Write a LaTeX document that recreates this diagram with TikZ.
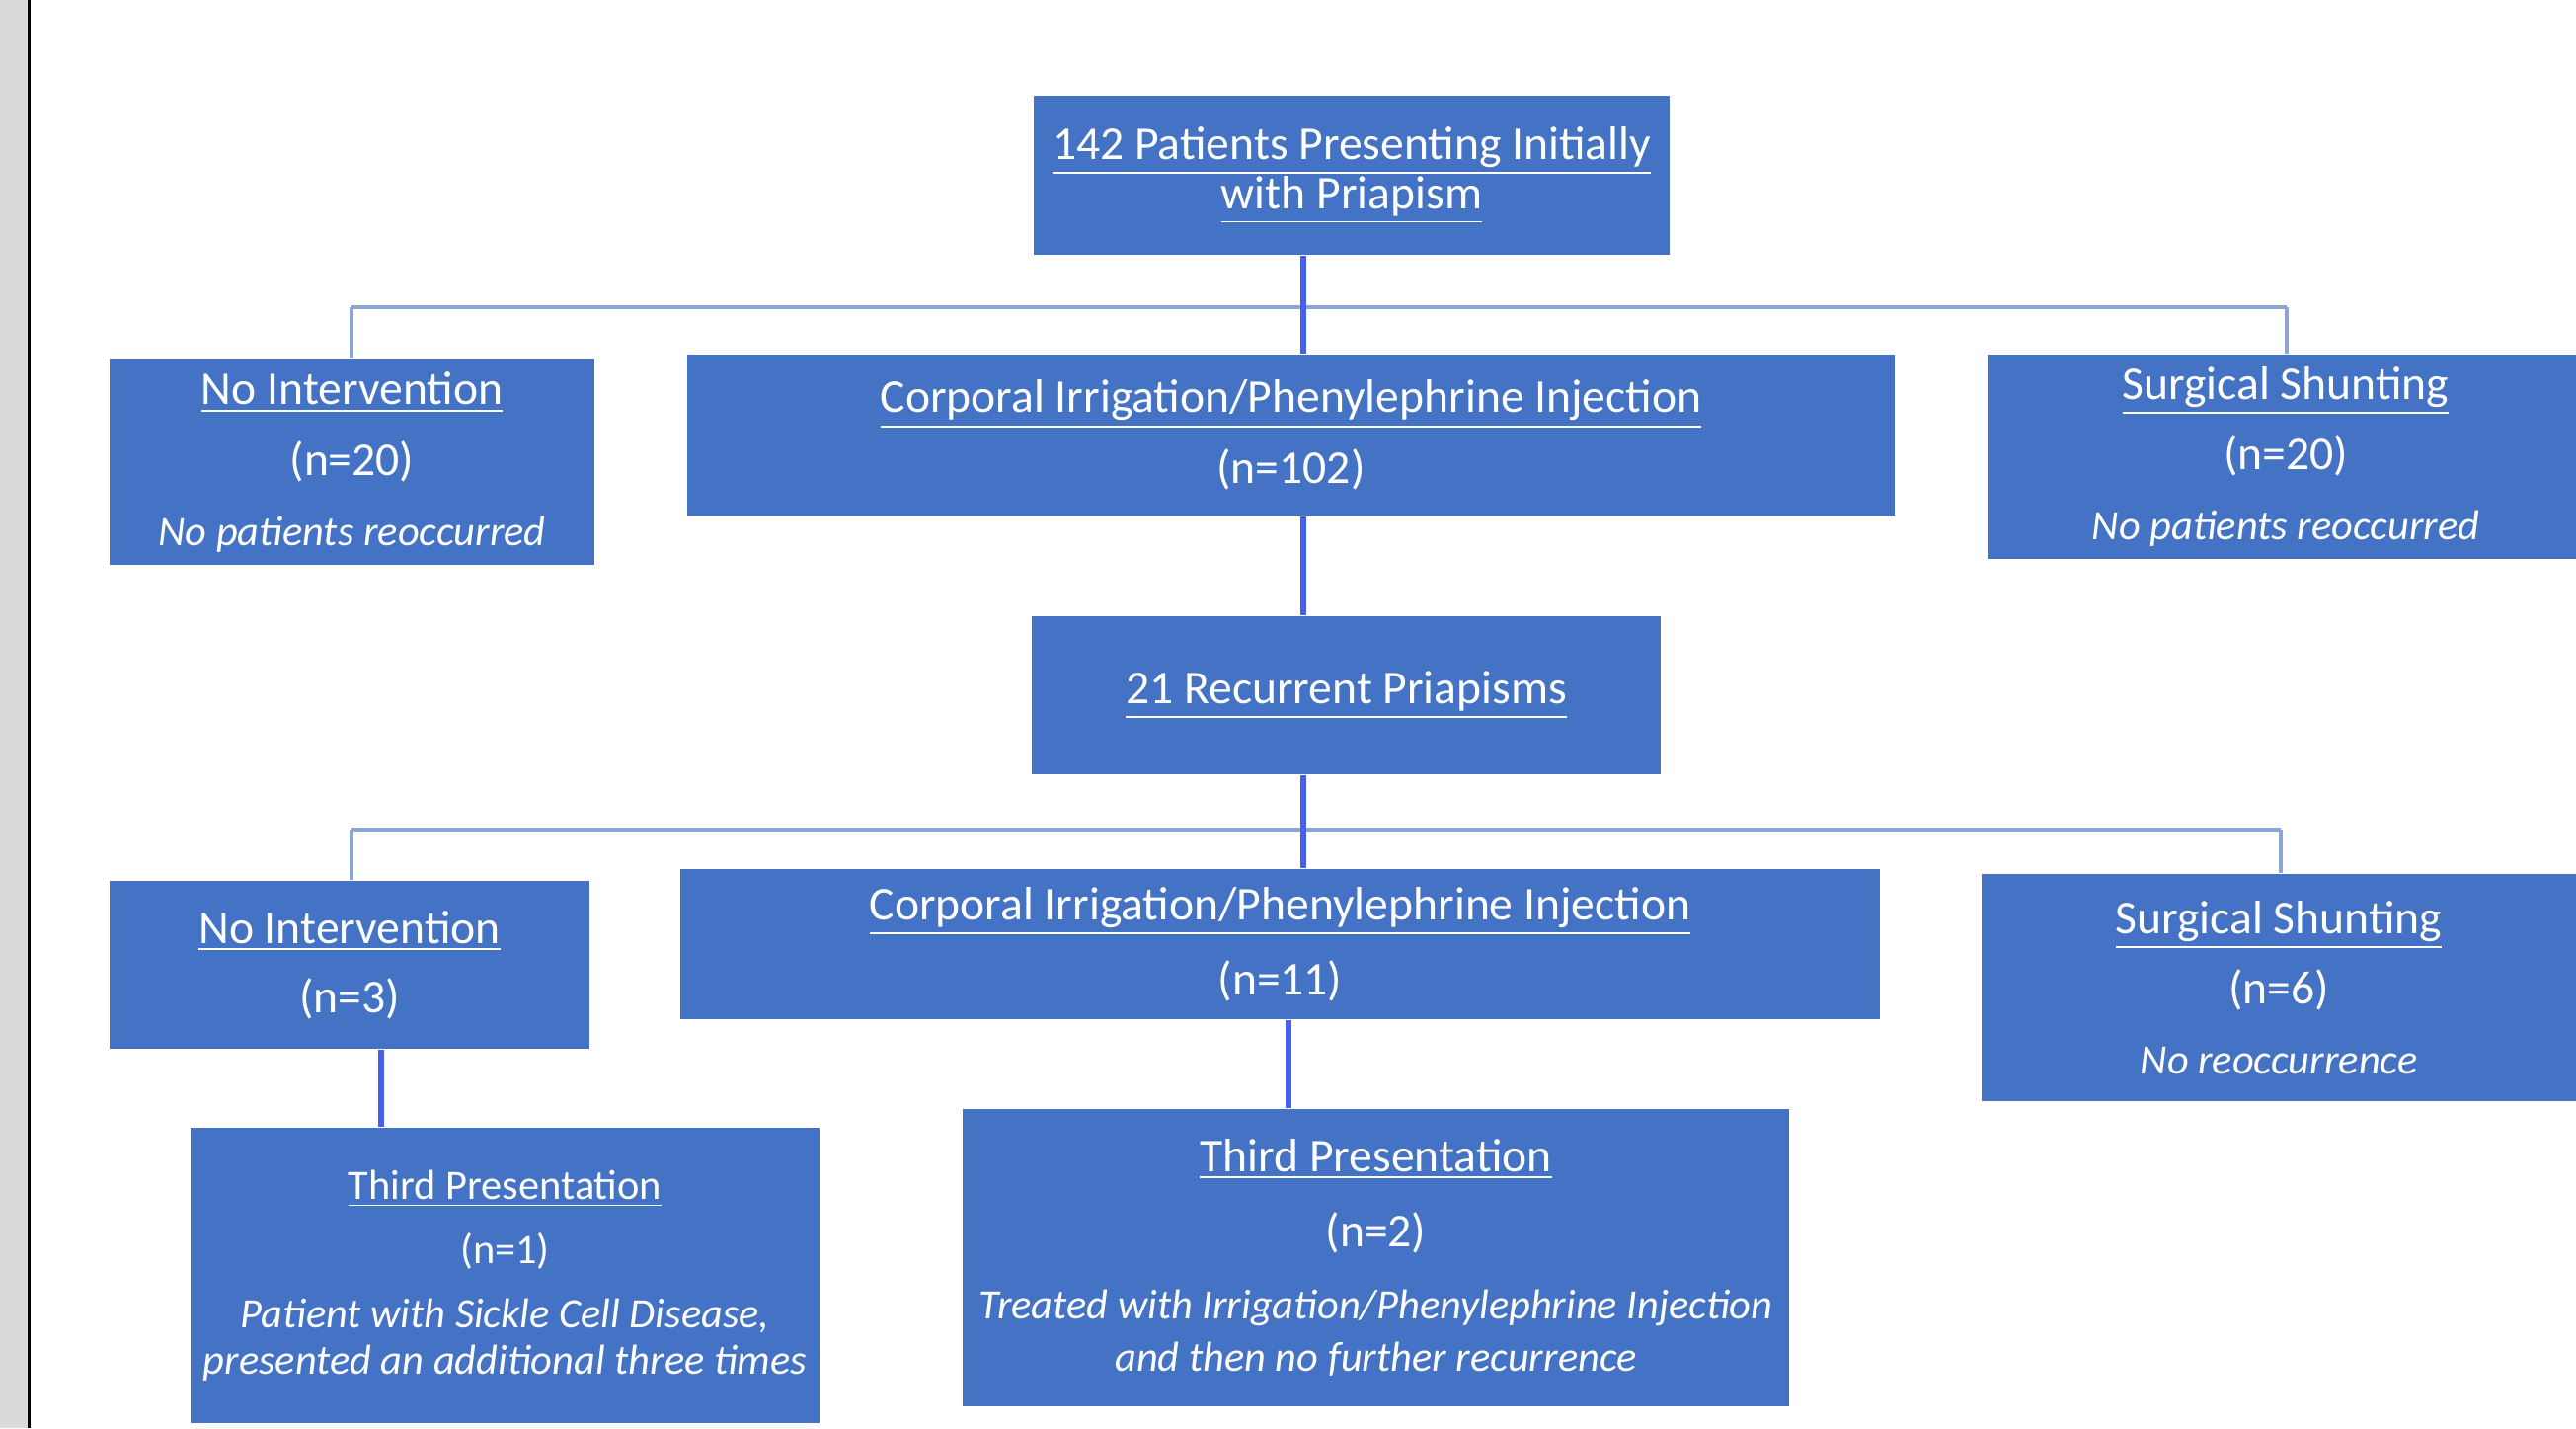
\documentclass[tikz,border=0pt]{standalone}
\usepackage{fontspec}
\setmainfont{Carlito}
\definecolor{boxblue}{HTML}{4472C4}
\definecolor{busline}{RGB}{140,165,215}
\definecolor{trunk}{RGB}{70,95,240}
\definecolor{stripgray}{RGB}{218,218,218}
\newcommand{\flowbox}[7][]{%
  \node[fbox, #1, minimum width={(#5-#3)*0.25pt}, minimum height={(#6-#4)*0.25pt}]
    (#2) at ({(#3+#5)/2},{(#4+#6)/2}) {#7};}
\newcommand{\smit}[1]{{\fontsize{10.6}{14.3}\selectfont\itshape #1}}
\begin{document}
\begin{tikzpicture}[x=0.25pt,y=-0.25pt,
  fbox/.style={rectangle, fill=boxblue, draw=none, inner sep=0pt, align=center,
    text=white, font=\fontsize{11.9}{14.3}\selectfont},
  smallbox/.style={font=\fontsize{10.6}{14.3}\selectfont},
  bus/.style={draw=busline, line width=1pt},
  trunkline/.style={draw=trunk, line width=1.5pt}]
\useasboundingbox (0,0) rectangle (2609,1446);
\fill[white] (0,0) rectangle (2609,1446);
\fill[stripgray] (0,0) rectangle (28,1446);
\fill[black] (28,0) rectangle (31,1446);

% boxes
\flowbox{top}{1047}{97}{1691}{258}{\underline{142 Patients Presenting Initially}\\[-1.8pt]\underline{with Priapism}}
\flowbox{niA}{111}{364}{602}{572}{\underline{No Intervention}\\[3.5pt](n=20)\\[3.5pt]\smit{No patients reoccurred}}
\flowbox{ciA}{696}{359}{1919}{522}{\underline{Corporal Irrigation/Phenylephrine Injection}\\[3.6pt](n=102)}
\flowbox{ssA}{2013}{359}{2617}{566}{\underline{Surgical Shunting}\\[3.5pt](n=20)\\[3.5pt]\smit{No patients reoccurred}}
\flowbox{rec}{1045}{624}{1682}{784}{\underline{21 Recurrent Priapisms}}
\flowbox{niB}{111}{892}{597}{1062}{\underline{No Intervention}\\[3.2pt](n=3)}
\flowbox{ciB}{689}{880}{1904}{1032}{\underline{Corporal Irrigation/Phenylephrine Injection}\\[4.8pt](n=11)}
\flowbox{ssB}{2007}{885}{2609}{1115}{\underline{Surgical Shunting}\\[3.5pt](n=6)\\[3.5pt]\smit{No reoccurrence}}
\flowbox[smallbox]{tpA}{193}{1142}{830}{1441}{\underline{Third Presentation}\\[1.9pt](n=1)\\[1.9pt]\smit{Patient with Sickle Cell Disease,}\\[-2.6pt]\smit{presented an additional three times}}
\flowbox{tpB}{975}{1123}{1812}{1424}{\underline{Third Presentation}\\[4.8pt](n=2)\\[4pt]\smit{Treated with Irrigation/Phenylephrine Injection}\\[-1pt]\smit{and then no further recurrence}}

% connector coordinates
\coordinate (busA) at (1320,311);
\coordinate (busAL) at (356,311);
\coordinate (busAR) at (2316,311);
\coordinate (busB) at (1320,840);
\coordinate (busBL) at (356,840);
\coordinate (busBR) at (2310,840);

% first level
\draw[bus] (busAL) -- (busAR);
\draw[bus] (busAL) -- (busAL |- niA.north);
\draw[bus] (busAR) -- (busAR |- ssA.north);
\draw[trunkline] (busA |- top.south) -- (busA |- ciA.north);
\draw[trunkline] (busA |- ciA.south) -- (busA |- rec.north);

% second level
\draw[bus] (busBL) -- (busBR);
\draw[bus] (busBL) -- (busBL |- niB.north);
\draw[bus] (busBR) -- (busBR |- ssB.north);
\draw[trunkline] (busB |- rec.south) -- (busB |- ciB.north);

% third level
\coordinate (dropA) at (386,1100);
\coordinate (dropB) at (1305,1080);
\draw[trunkline] (dropA |- niB.south) -- (dropA |- tpA.north);
\draw[trunkline] (dropB |- ciB.south) -- (dropB |- tpB.north);
\end{tikzpicture}
\end{document}
